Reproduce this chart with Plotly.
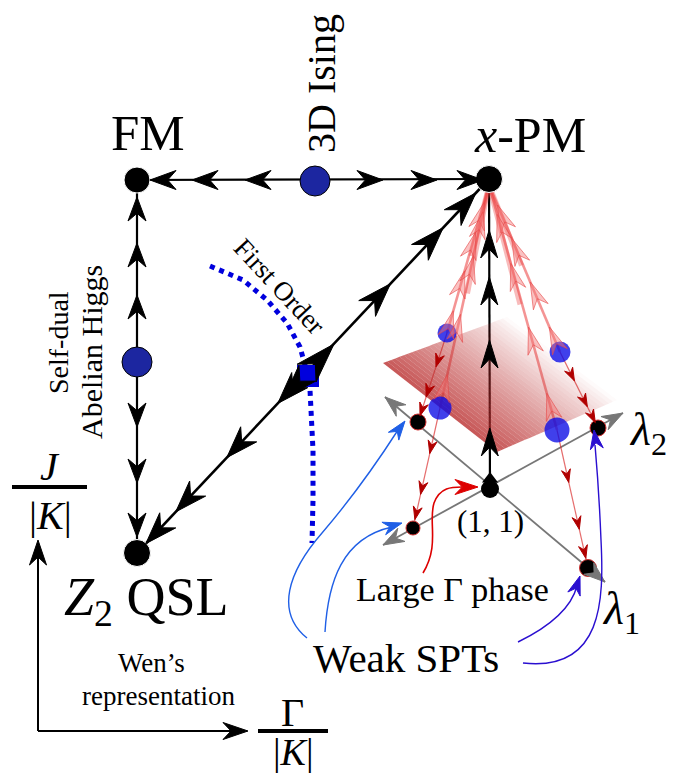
import plotly.graph_objects as go
import numpy as np

# ---------------- data (schematic coordinates, pixel-like plane) ----------------
node_names = ["FM", "xPM", "Z2QSL", "Ising3D", "Higgs", "FirstOrder"]
node_x = [137, 489, 137, 315, 137, 308]
node_y = [180, 179, 553, 181, 362, 376]

# arrow tip positions along flows
top_left_tips = [150, 192, 245]        # x along FM <- Ising
top_right_tips = [383, 437, 483]       # x along Ising -> xPM
left_up_tips = [197, 243, 295]         # y along Higgs -> FM
left_down_tips = [427, 483, 537]       # y along Higgs -> Z2
diag_up_tips = [0.72, 0.87, 0.963]     # fraction along Z2 -> xPM
diag_down_tips = [0.40, 0.255, 0.11, 0.025]
center_up_tips = [428, 340, 277, 230]  # y along (1,1) -> xPM

# (1,1) point, weak SPT dots, blue critical points
p11 = (490, 489)
spt_x = [418, 413, 598, 588]
spt_y = [422, 528, 428, 568]
crit_x = [447, 440, 560, 557]
crit_y = [333, 408, 352, 430]
crit_size = [19, 23, 21, 25]
spt_size = [16, 14, 16, 17]

# plane corners (L, T, R, B)
plane_x = [383, 507, 617, 497]
plane_y = [363, 317, 400, 452]

# first-order dotted curve
fo_x = [210, 243, 267, 287, 300, 305, 308, 310, 313, 313, 312]
fo_y = [266, 280, 300, 323, 347, 363, 376, 390, 450, 500, 543]

fig = go.Figure()
ann = []
shapes = []

def head(x, y, dx, dy, color, L, W, notch=0.32, outline=None, ow=1.0):
    """barbed arrowhead drawn as a filled path, tip at (x, y) pointing along (dx, dy)"""
    n = (dx ** 2 + dy ** 2) ** 0.5
    ux, uy = dx / n, dy / n
    px, py = -uy, ux
    pts = [(x, y),
           (x - L * ux + W / 2 * px, y - L * uy + W / 2 * py),
           (x - L * (1 - notch) * ux, y - L * (1 - notch) * uy),
           (x - L * ux - W / 2 * px, y - L * uy - W / 2 * py)]
    path = "M " + " L ".join(f"{a:.2f} {b:.2f}" for a, b in pts) + " Z"
    shapes.append(dict(type="path", path=path, fillcolor=color,
                       line=dict(color=outline or color, width=ow)))

def line(xs, ys, color, width, dash=None, opacity=1.0):
    fig.add_trace(go.Scatter(x=xs, y=ys, mode="lines", hoverinfo="skip",
                             line=dict(color=color, width=width, dash=dash),
                             opacity=opacity, showlegend=False))

FMx, FMy = node_x[0], node_y[0]
PMx, PMy = node_x[1], node_y[1]
Zx, Zy = node_x[2], node_y[2]

# ---- black skeleton ----
line([FMx, PMx], [FMy, PMy], "black", 2.2)
line([FMx, Zx], [FMy, Zy], "black", 2.2)
line([Zx, PMx], [Zy, PMy], "black", 2.6)
line([p11[0], PMx], [p11[1], PMy], "black", 2.2)

# ---- gray lambda axes ----
line([383, 623], [545, 413], "#777777", 1.8)
line([385, 605], [397, 582], "#777777", 1.8)

# ---- red flow lines ----
for cx, cy, sx, sy in zip(crit_x, crit_y, spt_x, spt_y):
    line([PMx, cx], [PMy + 6, cy], "rgba(235,60,60,0.55)", 2.6)
    line([PMx, (PMx + cx) / 2 + (3 if cx < PMx else -3)], [PMy + 6, (PMy + cy) / 2], "rgba(235,60,60,0.35)", 5)
    line([cx, sx], [cy, sy], "rgba(215,30,30,0.65)", 1.2)

# ---- gradient plane (semi-transparent strips) ----
L_ = np.array([plane_x[0], plane_y[0]], float)
T_ = np.array([plane_x[1], plane_y[1]], float)
R_ = np.array([plane_x[2], plane_y[2]], float)
B_ = np.array([plane_x[3], plane_y[3]], float)
N = 30
for i in range(N):
    s0, s1 = i / N, (i + 1) / N
    a = L_ + (T_ - L_) * s0
    b = L_ + (T_ - L_) * s1
    c = B_ + (R_ - B_) * s1
    d = B_ + (R_ - B_) * s0
    alpha = 0.8 * (1 - (s0 + s1) / 2) ** 0.9
    fig.add_trace(go.Scatter(x=[a[0], b[0], c[0], d[0], a[0]], y=[a[1], b[1], c[1], d[1], a[1]],
                             mode="lines", fill="toself", line=dict(width=0),
                             fillcolor=f"rgba(185,45,45,{alpha:.3f})", hoverinfo="skip", showlegend=False))

# ---- dotted first-order line ----
line(fo_x, fo_y, "#0000dd", 5, dash="dot")

# ---- markers ----
def markers(xs, ys, **mk):
    mk.setdefault("opacity", 1)
    fig.add_trace(go.Scatter(x=xs, y=ys, mode="markers", hoverinfo="skip", showlegend=False, marker=mk))

markers(crit_x, crit_y, size=crit_size, color="rgba(10,10,230,0.78)", line=dict(width=0))
markers(spt_x, spt_y, size=spt_size, color="black", line=dict(width=1, color="#d03030"))
markers([p11[0]], [p11[1]], size=18, color="black")
markers([p11[0]], [p11[1] - 10], size=14, color="black", symbol="triangle-up")
markers(node_x[:3], node_y[:3], size=[26, 27, 27], color="black")
markers(node_x[3:5], node_y[3:5], size=30, color="#1c26a0", line=dict(width=1, color="black"))
markers([node_x[5]], [node_y[5]], size=22, color="#0000dd", symbol="square")

# ---- black arrowheads ----
for x in top_left_tips:
    head(x, FMy, -1, 0, "black", 26, 19)
for x in top_right_tips:
    head(x, FMy, 1, 0, "black", 26, 19)
for y in left_up_tips:
    head(FMx, y, 0, -1, "black", 24, 18)
for y in left_down_tips:
    head(FMx, y, 0, 1, "black", 24, 18)
ddx, ddy = PMx - Zx, PMy - Zy
for f in diag_up_tips:
    head(Zx + ddx * f, Zy + ddy * f, ddx, ddy, "black", 34, 23)
for f in diag_down_tips:
    head(Zx + ddx * f, Zy + ddy * f, -ddx, -ddy, "black", 32, 22)
head(334, 344, ddx, ddy, "black", 40, 26)
head(284, 398, -ddx, -ddy, "black", 34, 23)
for y in center_up_tips:
    head(p11[0] - (p11[0] - PMx) * (p11[1] - y) / (p11[1] - PMy), y, 0, -1, "black", 28, 17)

# ---- red arrowheads ----
for cx, cy, sx, sy in zip(crit_x, crit_y, spt_x, spt_y):
    vx, vy = PMx - cx, PMy + 6 - cy
    for f in [0.15, 0.42, 0.68, 0.88]:
        head(cx + vx * f, cy + vy * f, vx, vy, "rgba(245,120,120,0.45)", 27, 16,
             outline="rgba(230,70,70,0.6)")
    wx, wy = sx - cx, sy - cy
    for f in [0.38, 0.72, 0.93]:
        head(cx + wx * f, cy + wy * f, wx, wy, "#b00000", 13, 9)

# ---- gray axis arrowheads ----
head(623, 413, 240, -132, "#777777", 21, 15)
head(383, 545, -240, 132, "#777777", 21, 15)
head(385, 397, -220, -185, "#777777", 21, 15)
head(605, 582, 220, 185, "#777777", 21, 15)

# ---- curved annotation arrows ----
LB, DB = "#1f5fe6", "#2a0fd0"
shapes.append(dict(type="path", path="M 307 638 C 275 612, 288 572, 322 533 C 352 498, 380 458, 398 430",
                   line=dict(color=LB, width=1.4)))
head(405, 421, 3, -4, LB, 19, 13)
shapes.append(dict(type="path", path="M 325 632 C 328 582, 342 538, 392 527",
                   line=dict(color=LB, width=1.4)))
head(402, 523, 5, -1.5, LB, 19, 13)
shapes.append(dict(type="path", path="M 518 642 C 555 624, 572 605, 577 586",
                   line=dict(color=DB, width=1.4)))
head(580, 576, 1, -3, DB, 19, 13)
shapes.append(dict(type="path", path="M 523 663 C 603 672, 604 600, 601 540 C 599 490, 597 468, 595 445",
                   line=dict(color=DB, width=1.4)))
head(594, 430, -0.15, -1, DB, 19, 13)
shapes.append(dict(type="path", path="M 423 573 C 440 545, 428 522, 434 503 C 440 487, 452 487, 462 487",
                   line=dict(color="#dd0000", width=1.6)))
head(478, 487, 1, 0, "#dd0000", 23, 15)

# ---- J/|K| , Gamma/|K| axes ----
line([38, 38], [731, 555], "black", 2)
line([38, 236], [731, 731], "black", 2)
head(38, 540, 0, -1, "black", 25, 17)
head(248, 731, 1, 0, "black", 25, 17)
shapes.append(dict(type="line", x0=12, x1=87, y0=487, y1=487, line=dict(color="black", width=4)))
shapes.append(dict(type="line", x0=258, x1=328, y0=731, y1=731, line=dict(color="black", width=4)))

FONT = "Liberation Serif"
def txt(x, y, s, size, angle=0, color="black"):
    ann.append(dict(x=x, y=y, xref="x", yref="y", text=s, showarrow=False, textangle=angle,
                    xanchor="center", yanchor="middle", font=dict(family=FONT, size=size, color=color)))

txt(148, 133, "FM", 51)
txt(530, 135, "<i>x</i>-PM", 50)
txt(321, 84, "3D Ising", 40, angle=-90)
txt(58, 343, "Self-dual", 28, angle=-90)
txt(91, 352, "Abelian Higgs", 30, angle=-90)
txt(146, 600, "<i>Z</i><sub>2</sub> QSL", 54)
txt(151, 663, "Wen’s", 27)
txt(158, 696, "representation", 27)
txt(279, 286, "First Order", 27, angle=47)
txt(50, 466, "<i>J</i>", 40)
txt(50, 515, "|<i>K</i>|", 40)
txt(292, 712, "Γ", 40)
txt(293, 752, "|<i>K</i>|", 38)
txt(406, 658, "Weak SPTs", 41)
txt(452, 589, "Large Γ phase", 34)
txt(490, 521, "(1, 1)", 31)
txt(648, 433, "<i>λ</i><sub>2</sub>", 46)
txt(621, 612, "<i>λ</i><sub>1</sub>", 46)

fig.update_layout(
    width=683, height=774, margin=dict(l=0, r=0, t=0, b=0),
    paper_bgcolor="white", plot_bgcolor="white",
    xaxis=dict(range=[0, 683], visible=False, fixedrange=True),
    yaxis=dict(range=[774, 0], visible=False, fixedrange=True),
    annotations=ann, shapes=shapes, showlegend=False,
)
fig.write_html("out.html")
